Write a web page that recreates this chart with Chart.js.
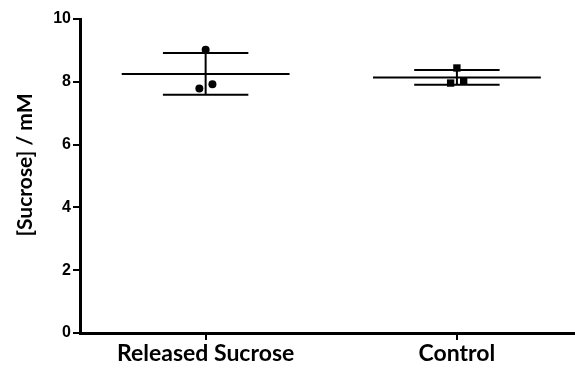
<!DOCTYPE html>
<html>
<head>
<meta charset="utf-8">
<script src="https://cdn.jsdelivr.net/npm/chart.js@4"></script>
<style>
  html, body { margin: 0; padding: 0; background: #fff; }
  #wrap { width: 575px; height: 371px; }
</style>
</head>
<body>
<div id="wrap"><canvas id="chart"></canvas></div>
<script>
// data
const categories = ['Released Sucrose', 'Control'];
const releasedValues = [9.02, 7.79, 7.92];
const controlValues = [8.44, 7.96, 8.03];
const groupMeans = [8.25, 8.14];
const groupSD = [0.665, 0.235];
const yTicks = [0, 2, 4, 6, 8, 10];
const yTitle = '[Sucrose] / mM';

// horizontal jitter of the dots, in x units
const jitter = [0, -0.025, 0.027];
const meanHalf = 0.334, capHalf = 0.17;

const groups = [releasedValues, controlValues];
const styles = ['circle', 'rect'];

const seg = (x1, y1, x2, y2) => ({
  type: 'line',
  data: [{ x: x1, y: y1 }, { x: x2, y: y2 }],
  borderColor: '#000',
  borderWidth: 2,
  pointRadius: 0,
  fill: false,
  order: 2,
});

const datasets = [];
groups.forEach((vals, i) => {
  const cx = i + 1, m = groupMeans[i], sd = groupSD[i];
  datasets.push(seg(cx - meanHalf, m, cx + meanHalf, m));
  datasets.push(seg(cx - capHalf, m + sd, cx + capHalf, m + sd));
  datasets.push(seg(cx - capHalf, m - sd, cx + capHalf, m - sd));
  datasets.push(seg(cx, m - sd, cx, m + sd));
  datasets.push({
    type: 'scatter',
    data: vals.map((v, k) => ({ x: cx + jitter[k], y: v })),
    pointStyle: styles[i],
    pointRadius: i === 0 ? 4 : 5.2,
    backgroundColor: '#000',
    borderColor: '#000',
    borderWidth: 0,
    order: 1,
  });
});

// y title drawn by hand so it sits where the original has it
const yTitlePlugin = {
  id: 'yTitle',
  afterDraw(chart) {
    const c = chart.ctx;
    c.save();
    c.translate(25, 165);
    c.rotate(-Math.PI / 2);
    c.fillStyle = '#000';
    c.font = 'bold 21px Lato';
    c.textAlign = 'center';
    c.textBaseline = 'middle';
    c.fillText(yTitle, 0, 0);
    c.restore();
  },
};

new Chart(document.getElementById('chart'), {
  type: 'scatter',
  data: { datasets },
  plugins: [yTitlePlugin],
  options: {
    responsive: true,
    maintainAspectRatio: false,
    animation: false,
    layout: { autoPadding: false, padding: { top: 19, right: 0, left: 0, bottom: 0 } },
    plugins: { legend: { display: false }, tooltip: { enabled: false } },
    scales: {
      x: {
        type: 'linear',
        min: 0.5,
        max: 2.47,
        afterBuildTicks: s => { s.ticks = categories.map((c, i) => ({ value: i + 1 })); },
        afterFit: s => { s.height = 38; s.paddingRight = 0; },
        ticks: {
          color: '#000',
          padding: 0,
          font: { family: 'Lato', weight: 'bold', size: 23 },
          callback: v => categories[v - 1],
        },
        grid: { drawOnChartArea: false, drawTicks: true, tickLength: 7, color: '#000', lineWidth: 2 },
        border: { color: '#000', width: 3 },
      },
      y: {
        min: 0,
        max: 10,
        afterBuildTicks: s => { s.ticks = yTicks.map(v => ({ value: v })); },
        afterFit: s => { s.width = 80; },
        ticks: {
          color: '#000',
          padding: 2,
          font: { family: 'Liberation Sans', weight: 'bold', size: 16 },
        },
        grid: { drawOnChartArea: false, drawTicks: true, tickLength: 7, color: '#000', lineWidth: 2 },
        border: { color: '#000', width: 3 },
      },
    },
  },
});
</script>
</body>
</html>
